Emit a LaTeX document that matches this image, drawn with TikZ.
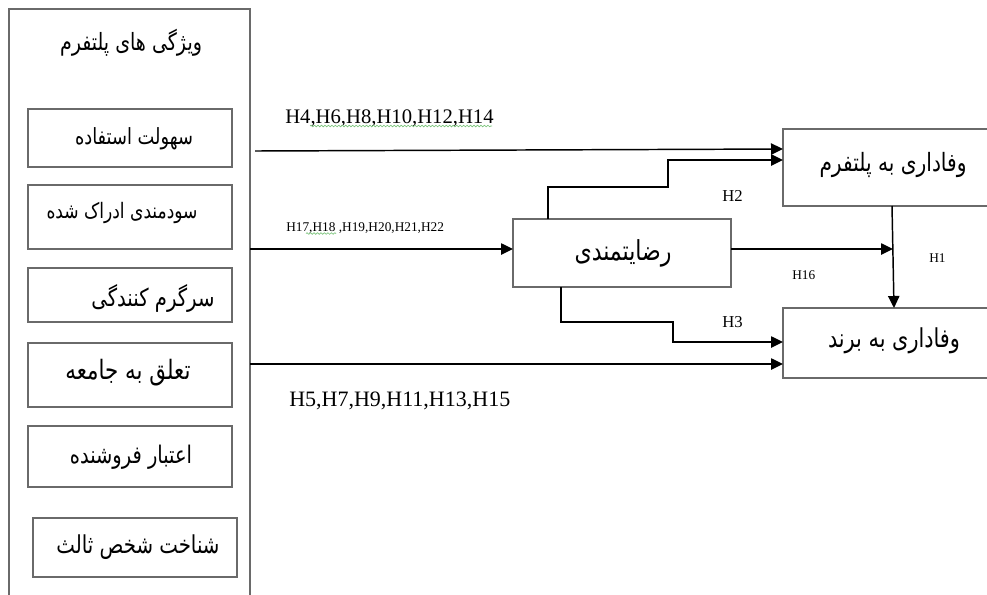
\documentclass[tikz,border=0pt]{standalone}
\usepackage{fontspec}
\usepackage{graphicx}
\usetikzlibrary{arrows.meta,decorations.pathmorphing}
\TeXXeTstate=1
\setmainfont{Liberation Serif}
\newfontfamily\farsi[Script=Arabic]{DejaVu Sans}
\newdimen\pxu \pxu=0.75pt
\newcommand\fatext[2]{\scalebox{1}[1.25]{\resizebox{#1\pxu}{!}{\farsi #2}}}
\definecolor{boxgray}{HTML}{6A6A6A}
\definecolor{spellgreen}{HTML}{7BC47B}
\tikzset{
  boxline/.style={draw=boxgray, line width=1.3pt},
  conn/.style={draw=black, line width=1.1pt, -{Triangle[length=9pt,width=8.5pt]}},
  hlab/.style={inner sep=0pt, anchor=base west, text=black},
  falab/.style={inner sep=0pt, anchor=center},
  spell/.style={draw=spellgreen, line width=0.5pt, decorate, decoration={snake, amplitude=0.6pt, segment length=2.6pt}}
}
\begin{document}
\begin{tikzpicture}[x=0.75pt, y=-0.75pt]
\useasboundingbox[fill=white] (0,0) rectangle (987,594);
% outer box
\draw[boxline] (9,9) rectangle (250,620);
\node[falab] (title) at (131,43) {\fatext{142}{\beginR ویژگی های پلتفرم\endR}};
% inner boxes
\draw[boxline] (28,109) rectangle (232,167);
\node[falab] (t1) at (134,139) {\fatext{118}{\beginR سهولت استفاده\endR}};
\draw[boxline] (28,185) rectangle (232,249);
\node[falab] (t2) at (122,213) {\fatext{151}{\beginR سودمندی ادراک شده\endR}};
\draw[boxline] (28,268) rectangle (232,322);
\node[falab] (t3) at (153,298) {\fatext{123}{\beginR سرگرم کنندگی\endR}};
\draw[boxline] (28,343) rectangle (232,407);
\node[falab] (t4) at (128,373) {\fatext{125}{\beginR تعلق به جامعه\endR}};
\draw[boxline] (28,426) rectangle (232,487);
\node[falab] (t5) at (131,457) {\fatext{122}{\beginR اعتبار فروشنده\endR}};
\draw[boxline] (33,518) rectangle (237,577);
\node[falab] (t6) at (138,547) {\fatext{163}{\beginR شناخت شخص ثالث\endR}};
% right boxes
\draw[boxline] (783,129) rectangle (1000,206);
\node[falab] (plat) at (893,165) {\fatext{147}{\beginR وفاداری به پلتفرم\endR}};
\draw[boxline] (783,308) rectangle (1000,378);
\node[falab] (brand) at (894,341) {\fatext{132}{\beginR وفاداری به برند\endR}};
\draw[boxline] (513,219) rectangle (731,287);
\node[falab] (sat) at (623,253) {\fatext{97}{\beginR رضایتمندی\endR}};
% coordinates
\coordinate (a1s) at (255,151);
\coordinate (a1e) at (783,149);
\coordinate (s2a) at (548,219);
\coordinate (s2b) at (548,187);
\coordinate (s2c) at (668,187);
\coordinate (s2d) at (668,160);
\coordinate (s2e) at (783,160);
\coordinate (a17s) at (250,249);
\coordinate (a17e) at (513,249);
\coordinate (a16s) at (731,249);
\coordinate (a16e) at (893,249);
\coordinate (h1s) at (892,206);
\coordinate (h1e) at (894,308);
\coordinate (s3a) at (561,287);
\coordinate (s3b) at (561,322);
\coordinate (s3c) at (673,322);
\coordinate (s3d) at (673,342);
\coordinate (s3e) at (783,342);
\coordinate (a5s) at (250,364);
\coordinate (a5e) at (783,364);
% connectors
\draw[conn] (a1s) -- (a1e);
\draw[conn] (s2a) -- (s2b) -- (s2c) -- (s2d) -- (s2e);
\draw[conn] (a17s) -- (a17e);
\draw[conn] (a16s) -- (a16e);
\draw[conn] (h1s) -- (h1e);
\draw[conn] (s3a) -- (s3b) -- (s3c) -- (s3d) -- (s3e);
\draw[conn] (a5s) -- (a5e);
% labels
\node[hlab, font=\fontsize{15.5}{18}\selectfont] (l1) at (285,123) {H4,H6,H8,H10,H12,H14};
\draw[spell] (310,126) -- (492,126);
\node[hlab, font=\fontsize{10}{12}\selectfont] (l17) at (286,231) {H17,H18 ,H19,H20,H21,H22};
\draw[spell] (306,233.5) -- (336,233.5);
\node[hlab, font=\fontsize{16.5}{19}\selectfont] (l5) at (289,406) {H5,H7,H9,H11,H13,H15};
\node[hlab, font=\fontsize{12.5}{15}\selectfont] (lh2) at (722,201) {H2};
\node[hlab, font=\fontsize{10}{12}\selectfont] (lh16) at (792,279) {H16};
\node[hlab, font=\fontsize{10}{12}\selectfont] (lh1) at (929,262) {H1};
\node[hlab, font=\fontsize{12.5}{15}\selectfont] (lh3) at (722,327) {H3};
\end{tikzpicture}
\end{document}
